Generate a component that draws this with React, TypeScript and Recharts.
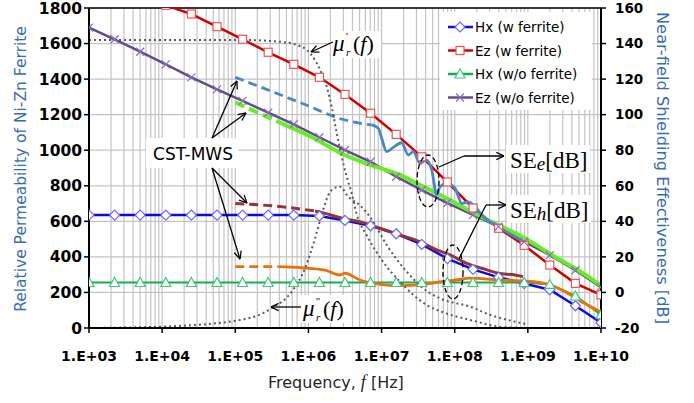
import React from 'react';
import { LineChart, Line, XAxis, YAxis, CartesianGrid, ReferenceLine } from 'recharts';

// x axis: decades and their labels
const decades = [1e3, 1e4, 1e5, 1e6, 1e7, 1e8, 1e9, 1e10];
const decadeLabels = ['1.E+03', '1.E+04', '1.E+05', '1.E+06', '1.E+07', '1.E+08', '1.E+09', '1.E+10'];
const minorSteps = [1, 2, 3, 4, 5, 6, 7, 8, 9];

// y axes
const permTicks = [0, 200, 400, 600, 800, 1000, 1200, 1400, 1600, 1800];
const seTicks = [-20, 0, 20, 40, 60, 80, 100, 120, 140, 160];

// measured shielding effectiveness [dB]
const measFreq = [1.0e3, 2.239e3, 5.012e3, 1.122e4, 2.512e4, 5.623e4, 1.259e5, 2.818e5, 6.31e5, 1.413e6, 3.162e6, 7.079e6, 1.585e7, 3.548e7, 7.943e7, 1.778e8, 3.981e8, 8.913e8, 1.995e9, 4.467e9, 1.0e10];
const hxWithFerrite = [43.5, 43.5, 43.5, 43.5, 43.5, 43.5, 43.5, 43.5, 43.5, 43.0, 40.5, 37.5, 33.0, 27.0, 19.0, 13.0, 8.5, 5.0, 1.5, -7.5, -17.0];
const ezWithFerrite = [null, null, null, 161.5, 156.6, 149.5, 142.4, 135.1, 128.3, 121.0, 111.4, 100.8, 88.9, 76.3, 62.1, 47.5, 36.1, 26.5, 15.4, 5.1, -1.4];
const hxWithoutFerrite = [5.6, 5.6, 5.6, 5.6, 5.6, 5.6, 5.6, 5.6, 5.6, 5.6, 5.6, 5.6, 5.6, 5.6, 5.6, 5.6, 5.6, 5.6, 4.5, -2.0, -12.5];
const ezWithoutFerrite = [149.0, 142.4, 135.4, 128.3, 121.0, 114.2, 107.8, 101.1, 94.6, 87.3, 80.1, 73.5, 65.1, 57.6, 50.3, 43.6, 37.0, 28.5, 21.0, 12.5, 3.0];

// CST-MWS simulations [dB] (dashed = extrapolated part)
const cstBlueDashFreq = [1.0e5, 2.98e5, 8.98e5, 3.16e6, 4.11e6, 5.4e6, 7.33e6];
const cstBlueDashVal = [121.0, 113.5, 105.7, 97.0, 96.0, 95.0, 94.2];
const cstBlueFreq = [7.33e6, 9.02e6, 1.005e7, 1.175e7, 1.446e7, 1.88e7, 2.32e7, 2.72e7, 3.36e7, 4.05e7, 4.85e7, 5.68e7, 6.3e7, 7.78e7, 1.01e8, 1.25e8, 1.53e8, 2.6e8, 3.95e8, 6.01e8, 9.64e8];
const cstBlueVal = [94.2, 92.3, 86.7, 79.2, 81.6, 84.2, 77.3, 79.2, 72.6, 74.5, 68.9, 54.9, 59.5, 61.4, 58.6, 50.1, 51.0, 41.7, 37.0, 32.3, 27.6];

const cstGreenDashFreq = [1.0e5, 2.1e5, 4.31e5];
const cstGreenDashVal = [106.9, 100.9, 95.1];
const cstGreenFreq = [4.31e5, 1.0e6, 3.16e6, 6.95e6, 1.79e7, 3.02e7, 5.1e7, 8.63e7, 1.38e8, 3.95e8, 9.15e8, 2.12e9, 4.42e9, 1.0e10];
const cstGreenVal = [95.1, 88.3, 77.3, 71.7, 66.1, 61.4, 56.7, 52.0, 47.3, 37.9, 30.5, 21.1, 13.6, 3.9];

const cstBrownDashFreq = [1.0e5, 4.31e5, 1.23e6];
const cstBrownDashVal = [50.1, 48.2, 45.8];
const cstBrownFreq = [1.23e6, 1.69e6, 3.16e6, 5.07e6, 9.52e6, 1.79e7, 3.36e7, 5.68e7, 8.63e7, 1.46e8, 2.34e8, 3.95e8, 6.67e8, 8.59e8];
const cstBrownVal = [45.8, 44.5, 41.3, 39.8, 36.1, 32.3, 28.5, 23.9, 21.1, 16.4, 13.6, 10.8, 9.8, 8.9];

const cstOrangeDashFreq = [1.0e5, 3.87e5];
const cstOrangeDashVal = [14.5, 14.5];
const cstOrangeFreq = [3.87e5, 8.09e5, 1.69e6, 2.19e6, 2.7e6, 3.16e6, 5.07e6, 9.52e6, 1.79e7, 3.36e7, 5.68e7, 1.06e8, 1.62e8, 3.95e8, 9.15e8, 1.91e9, 3.22e9, 5.45e9, 1.0e10];
const cstOrangeVal = [14.5, 13.9, 12.6, 10.8, 9.8, 10.8, 7.0, 4.6, 3.8, 4.2, 5.7, 7.0, 8.0, 7.0, 6.4, 4.6, 0.4, -5.2, -11.0];

// Ni-Zn ferrite complex permeability (left axis)
const muRealFreq = [1.0e3, 1.22e5, 4.09e5, 6.92e5, 9.48e5, 1.23e6, 1.52e6, 1.78e6, 2.08e6, 2.44e6, 2.85e6, 3.34e6, 3.91e6, 4.57e6, 6.27e6, 8.59e6, 1.175e7, 1.79e7, 2.72e7, 4.14e7, 6.98e7, 1.46e8, 2.0e8, 3.37e8, 7.8e8];
const muRealVal = [1620, 1620, 1610, 1592, 1564, 1507, 1432, 1357, 1245, 1095, 963, 851, 757, 640, 520, 425, 345, 260, 186, 129, 88, 50, 36, 12, 0];
const muImagFreq = [1.0e3, 3.64e3, 9.35e3, 2.4e4, 5.28e4, 1.16e5, 1.86e5, 3.15e5, 5.9e5, 8.98e5, 1.23e6, 1.52e6, 1.87e6, 2.24e6, 2.7e6, 3.51e6, 5.07e6, 7.71e6, 1.175e7, 2.21e7, 3.72e7, 6.3e7, 1.62e8, 3.0e8, 6.0e8, 1.0e9];
const muImagVal = [0, 3, 7, 15, 26, 45, 65, 111, 204, 336, 504, 636, 748, 785, 795, 738, 690, 598, 467, 317, 223, 167, 120, 75, 40, 20];

const pts = (fs: number[], vs: (number | null)[]) =>
    fs.map((f, i) => ({ f, v: vs[i] })).filter(p => p.v !== null);

const gridFreqs = decades.flatMap(d => (d === 1e10 ? [d] : minorSteps.map(m => m * d)));

const SANS = "'DejaVu Sans', Verdana, sans-serif";
const SERIF = "'Liberation Serif', 'Times New Roman', serif";
const TITLE_BLUE = '#3A6BB0';

const series = [
    { name: 'Hx (w ferrite)', color: '#0A0AE6', mark: '#6A6AF8', shape: 'diamond' },
    { name: 'Ez (w ferrite)', color: '#D00000', mark: '#EE5555', shape: 'square' },
    { name: 'Hx (w/o ferrite)', color: '#10B050', mark: '#40C878', shape: 'triangle' },
    { name: 'Ez (w/o ferrite)', color: '#634C8E', mark: '#8A70B8', shape: 'cross' },
];

const Marker = ({ cx, cy, shape, stroke }: any) => {
    if (shape === 'diamond')
        return <path d={`M${cx},${cy - 5} L${cx + 5},${cy} L${cx},${cy + 5} L${cx - 5},${cy} Z`} fill="#fff" stroke={stroke} strokeWidth={1.2} />;
    if (shape === 'square')
        return <rect x={cx - 4} y={cy - 4} width={8} height={8} fill="#fff" stroke={stroke} strokeWidth={1.2} />;
    if (shape === 'triangle')
        return <path d={`M${cx},${cy - 5} L${cx + 5},${cy + 4} L${cx - 5},${cy + 4} Z`} fill="#fff" stroke={stroke} strokeWidth={1.2} />;
    return <path d={`M${cx - 4},${cy - 4} L${cx + 4},${cy + 4} M${cx - 4},${cy + 4} L${cx + 4},${cy - 4}`} stroke={stroke} strokeWidth={1.2} />;
};

const dotFor = (shape: string, stroke: string) => (p: any) => {
    if (p.cx == null || p.cy == null) return <g key={p.index} />;
    return <g key={p.index}><Marker cx={p.cx} cy={p.cy} shape={shape} stroke={stroke} /></g>;
};

const FreqTick = (props: any) => {
    const { x, y, payload } = props;
    const i = decades.indexOf(payload.value);
    if (i < 0) return <g />;
    return (
        <g>
            <line x1={x} x2={x} y1={y} y2={y + 5} stroke="#000" strokeWidth={1.5} />
            <text x={x} y={y + 33} textAnchor="middle" fontFamily={SANS} fontWeight={700} fontSize={14} fill="#000">
                {decadeLabels[i]}
            </text>
        </g>
    );
};

// permeability label: mu with primes, subscript r and (f)
const MuLabel = ({ x, y, primes }: { x: number; y: number; primes: string }) => (
    <g fontFamily={SERIF} fill="#000">
        <text x={x} y={y} fontSize={23} fontStyle="italic">μ</text>
        <text x={x + 13} y={y - 11} fontSize={11}>{primes}</text>
        <text x={x + 13} y={y + 5} fontSize={11} fontStyle="italic">r</text>
        <text x={x + 20} y={y} fontSize={22}>(<tspan fontStyle="italic">f</tspan>)</text>
    </g>
);

const App: React.FC = () => {
    const legendRows = [27, 50.5, 74, 97.5];

    return (
        <div style={{ position: 'absolute', left: 0, top: 0, width: 694, height: 403, background: '#fff' }}>
            <LineChart width={694} height={403} margin={{ top: 8, right: 33, bottom: 35, left: 29 }}>
                <CartesianGrid yAxisId="left" stroke="#C4C4C4" strokeWidth={1.2} />
                <XAxis
                    dataKey="f"
                    type="number"
                    scale="log"
                    domain={[1e3, 1e10]}
                    ticks={gridFreqs}
                    interval={0}
                    allowDataOverflow
                    tick={<FreqTick />}
                    tickLine={false}
                    tickSize={0}
                    tickMargin={0}
                    height={40}
                    axisLine={{ stroke: '#000', strokeWidth: 2 }}
                />
                <YAxis
                    yAxisId="left"
                    domain={[0, 1800]}
                    ticks={permTicks}
                    interval={0}
                    allowDataOverflow
                    width={60}
                    tickSize={5}
                    tickMargin={2}
                    axisLine={{ stroke: '#000', strokeWidth: 2 }}
                    tickLine={{ stroke: '#000', strokeWidth: 1.5 }}
                    tick={{ fill: '#000', fontSize: 15.5, fontWeight: 700, fontFamily: SANS }}
                />
                <YAxis
                    yAxisId="right"
                    orientation="right"
                    domain={[-20, 160]}
                    ticks={seTicks}
                    interval={0}
                    allowDataOverflow
                    width={60}
                    tickSize={5}
                    tickMargin={9}
                    axisLine={{ stroke: '#000', strokeWidth: 2 }}
                    tickLine={{ stroke: '#000', strokeWidth: 1.5 }}
                    tick={{ fill: '#000', fontSize: 13.5, fontWeight: 700, fontFamily: SANS }}
                />
                <ReferenceLine yAxisId="left" y={1800} stroke="#000" strokeWidth={1.5} />

                {/* measurements */}
                <Line yAxisId="right" data={pts(measFreq, hxWithFerrite)} dataKey="v" type="linear" stroke={series[0].color} strokeWidth={2.5} dot={dotFor('diamond', series[0].mark)} isAnimationActive={false} />
                <Line yAxisId="right" data={pts(measFreq, ezWithFerrite)} dataKey="v" type="linear" stroke={series[1].color} strokeWidth={2.5} dot={dotFor('square', series[1].mark)} isAnimationActive={false} />
                <Line yAxisId="right" data={pts(measFreq, hxWithoutFerrite)} dataKey="v" type="linear" stroke={series[2].color} strokeWidth={2.2} dot={dotFor('triangle', series[2].mark)} isAnimationActive={false} />
                <Line yAxisId="right" data={pts(measFreq, ezWithoutFerrite)} dataKey="v" type="linear" stroke={series[3].color} strokeWidth={2.5} dot={dotFor('cross', series[3].mark)} isAnimationActive={false} />

                {/* CST-MWS */}
                <Line yAxisId="right" data={pts(cstGreenDashFreq, cstGreenDashVal)} dataKey="v" type="linear" stroke="#66EE22" strokeWidth={4} strokeDasharray="10 5" dot={false} isAnimationActive={false} />
                <Line yAxisId="right" data={pts(cstGreenFreq, cstGreenVal)} dataKey="v" type="monotone" stroke="#66EE22" strokeWidth={4} dot={false} isAnimationActive={false} />
                <Line yAxisId="right" data={pts(cstBlueDashFreq, cstBlueDashVal)} dataKey="v" type="monotone" stroke="#4A86C8" strokeWidth={2.8} strokeDasharray="9 5" dot={false} isAnimationActive={false} />
                <Line yAxisId="right" data={pts(cstBlueFreq, cstBlueVal)} dataKey="v" type="monotone" stroke="#4A86C8" strokeWidth={2.8} dot={false} isAnimationActive={false} />
                <Line yAxisId="right" data={pts(cstBrownDashFreq, cstBrownDashVal)} dataKey="v" type="monotone" stroke="#943634" strokeWidth={3} strokeDasharray="9 5" dot={false} isAnimationActive={false} />
                <Line yAxisId="right" data={pts(cstBrownFreq, cstBrownVal)} dataKey="v" type="monotone" stroke="#943634" strokeWidth={3} dot={false} isAnimationActive={false} />
                <Line yAxisId="right" data={pts(cstOrangeDashFreq, cstOrangeDashVal)} dataKey="v" type="linear" stroke="#EA700D" strokeWidth={2.8} strokeDasharray="9 5" dot={false} isAnimationActive={false} />
                <Line yAxisId="right" data={pts(cstOrangeFreq, cstOrangeVal)} dataKey="v" type="monotone" stroke="#EA700D" strokeWidth={2.8} dot={false} isAnimationActive={false} />

                {/* permeability */}
                <Line yAxisId="left" data={pts(muRealFreq, muRealVal)} dataKey="v" type="monotone" stroke="#5A5A5A" strokeWidth={2} strokeDasharray="2 3" dot={false} isAnimationActive={false} />
                <Line yAxisId="left" data={pts(muImagFreq, muImagVal)} dataKey="v" type="monotone" stroke="#5A5A5A" strokeWidth={2} strokeDasharray="2 3" dot={false} isAnimationActive={false} />
            </LineChart>

            {/* annotations, legend and axis titles */}
            <svg width={694} height={403} style={{ position: 'absolute', left: 0, top: 0, pointerEvents: 'none' }}>
                <defs>
                    <marker id="arrowOpen" viewBox="0 0 10 10" refX="9.5" refY="5" markerWidth="9" markerHeight="9" markerUnits="userSpaceOnUse" orient="auto">
                        <path d="M1,1 L9.5,5 L1,9" fill="none" stroke="#000" strokeWidth={1.4} />
                    </marker>
                </defs>

                {/* legend */}
                <rect x={440} y={12} width={152} height={98} fill="#fff" />
                {series.map((s, i) => (
                    <g key={s.name}>
                        <line x1={448} x2={473} y1={legendRows[i]} y2={legendRows[i]} stroke={s.color} strokeWidth={2.5} />
                        <Marker cx={460} cy={legendRows[i]} shape={s.shape} stroke={s.mark} />
                        <text x={475} y={legendRows[i] + 5} fontFamily={SANS} fontSize={13.5} fill="#000">{s.name}</text>
                    </g>
                ))}

                {/* CST-MWS */}
                <rect x={146} y={138} width={92} height={30} fill="#fff" />
                <text x={193} y={160} textAnchor="middle" fontFamily={SANS} fontSize={17} fill="#000">CST-MWS</text>
                <g stroke="#000" strokeWidth={1.3} fill="none">
                    <line x1={212} y1={138} x2={237} y2={81} markerEnd="url(#arrowOpen)" />
                    <line x1={212} y1={138} x2={246} y2={113} markerEnd="url(#arrowOpen)" />
                    <line x1={212} y1={168} x2={247} y2={203} markerEnd="url(#arrowOpen)" />
                    <line x1={212} y1={168} x2={240} y2={259} markerEnd="url(#arrowOpen)" />
                </g>

                {/* mu' label */}
                <rect x={331} y={31} width={50} height={27} fill="#fff" />
                <MuLabel x={333} y={51} primes="'" />
                <line x1={333} y1={42} x2={311} y2={52} stroke="#000" strokeWidth={1.3} markerEnd="url(#arrowOpen)" />

                {/* mu'' label */}
                <rect x={300} y={295} width={50} height={28} fill="#fff" />
                <MuLabel x={303} y={316} primes="''" />
                <line x1={301} y1={307} x2={271} y2={307} stroke="#000" strokeWidth={1.3} markerEnd="url(#arrowOpen)" />

                {/* SE_e */}
                <ellipse cx={428} cy={181} rx={11} ry={26} fill="none" stroke="#000" strokeWidth={1.3} strokeDasharray="5 3" />
                <polyline points="439,167 464,156" fill="none" stroke="#000" strokeWidth={1.3} />
                <line x1={464} y1={156} x2={504} y2={156} stroke="#000" strokeWidth={1.3} markerEnd="url(#arrowOpen)" />
                <rect x={506} y={145} width={84} height={28} fill="#fff" />
                <text x={510} y={168} fontFamily={SERIF} fontSize={23} fill="#000">
                    SE<tspan fontStyle="italic" fontSize={19} dy={2}>e</tspan><tspan dy={-2}>[dB]</tspan>
                </text>

                {/* SE_h */}
                <ellipse cx={453} cy={272} rx={10} ry={27} fill="none" stroke="#000" strokeWidth={1.3} strokeDasharray="5 3" />
                <polyline points="459,259 486,205" fill="none" stroke="#000" strokeWidth={1.3} />
                <line x1={486} y1={205} x2={506} y2={205} stroke="#000" strokeWidth={1.3} markerEnd="url(#arrowOpen)" />
                <rect x={507} y={195} width={84} height={28} fill="#fff" />
                <text x={510} y={218} fontFamily={SERIF} fontSize={23} fill="#000">
                    SE<tspan fontStyle="italic" fontSize={19} dy={2}>h</tspan><tspan dy={-2}>[dB]</tspan>
                </text>

                {/* axis titles */}
                <text transform="translate(26,169) rotate(-90)" textAnchor="middle" fontFamily={SANS} fontSize={15.5} fill={TITLE_BLUE}>
                    Relative Permeability of Ni-Zn Ferrite
                </text>
                <text transform="translate(657,168) rotate(90)" textAnchor="middle" fontFamily={SANS} fontSize={16.3} fill={TITLE_BLUE}>
                    Near-field Shielding Effectiveness [dB]
                </text>
                <text x={268} y={388} fontFamily={SANS} fontSize={16} fill="#262626">
                    Frequency, <tspan fontFamily={SERIF} fontStyle="italic" fontSize={18}>f</tspan> [Hz]
                </text>
            </svg>
        </div>
    );
};

export default App;
